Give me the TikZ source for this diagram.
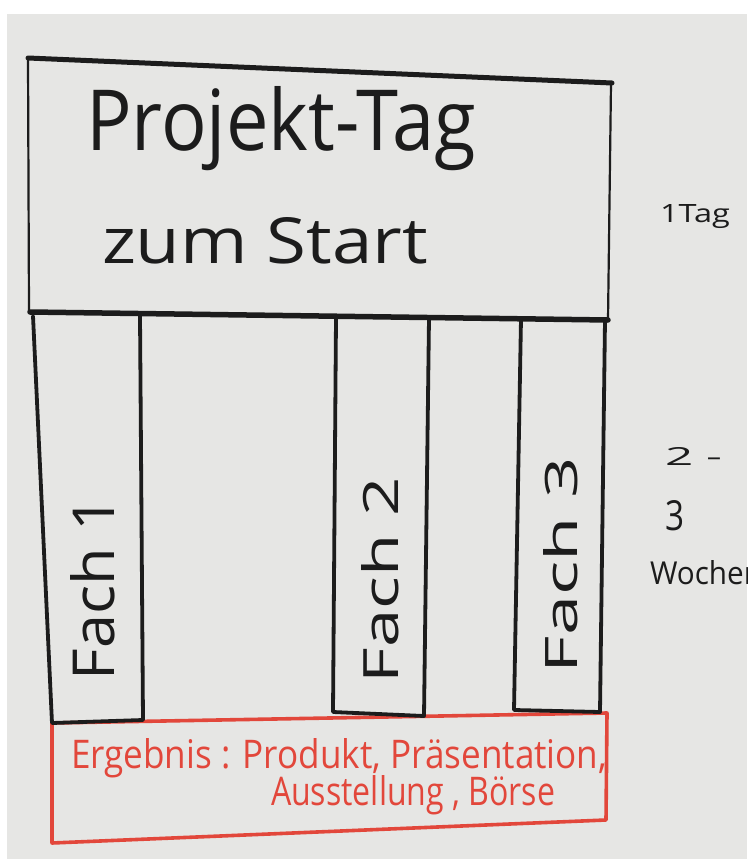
\documentclass[tikz,border=0pt]{standalone}
\usepackage{fontspec}
\setmainfont{Open Sans}
\definecolor{inkc}{HTML}{1C1C1C}
\definecolor{redc}{HTML}{E2473B}
\definecolor{paperc}{HTML}{E6E6E4}
\begin{document}
\begin{tikzpicture}[x=1pt,y=-1pt,line join=round,line cap=round,
  ink/.style={draw=inkc,line width=#1},
  redpen/.style={draw=redc,line width=3.6pt},
  lbl/.style={inner sep=0pt,outer sep=0pt,text=inkc,anchor=base west},
  rlbl/.style={inner sep=0pt,outer sep=0pt,text=redc,anchor=base west}]
\useasboundingbox (0,0) rectangle (747,859);
\fill[white] (0,0) rectangle (747,859);
\fill[paperc] (7,14) rectangle (747,859);
% red result box
\draw[redpen] (52,723) -- (607,713) -- (606,820) -- (52,843) -- cycle;
% top box
\draw[ink=5pt] (28,58) -- (612,83);
\draw[ink=2.2pt] (28,58) -- (29,312);
\draw[ink=2.2pt] (611,83) -- (608,320);
\draw[ink=5.5pt] (30,312) -- (608,320);
% subject columns
\draw[ink=3.8pt] (33,316) -- (52,723) -- (143,720) -- (140,316);
\draw[ink=3.8pt] (336,318) -- (333,712) -- (424,716) -- (429,318);
\draw[ink=3.8pt] (521,319) -- (514,710) -- (600,712) -- (605,320);
% texts
\node[lbl] (title1) at (86,150) {\resizebox{390pt}{64pt}{Projekt-Tag}};
\node[lbl] (title2) at (102,263) {\resizebox{326pt}{46pt}{zum Start}};
\node[lbl,rotate=90] (fach1) at (114,680) {\resizebox{183pt}{44pt}{Fach 1}};
\node[lbl,rotate=90] (fach2) at (398,683) {\resizebox{206pt}{37pt}{Fach 2}};
\node[lbl,rotate=90] (fach3) at (577,673) {\resizebox{216pt}{34pt}{Fach 3}};
\node[lbl] (oneday) at (660,222) {\resizebox{70pt}{18pt}{1Tag}};
\node[lbl] (two) at (665,465) {\resizebox{57pt}{18pt}{2 -}};
\node[lbl] (three) at (665,530) {\resizebox{19pt}{30pt}{3}};
\node[lbl] (weeks) at (650,584) {\resizebox{112pt}{24pt}{Wochen}};
\node[rlbl] (res1) at (71,768) {\resizebox{536pt}{30pt}{Ergebnis : Produkt, Präsentation,}};
\node[rlbl] (res2) at (271,805) {\resizebox{284pt}{30pt}{Ausstellung , Börse}};
\end{tikzpicture}
\end{document}
